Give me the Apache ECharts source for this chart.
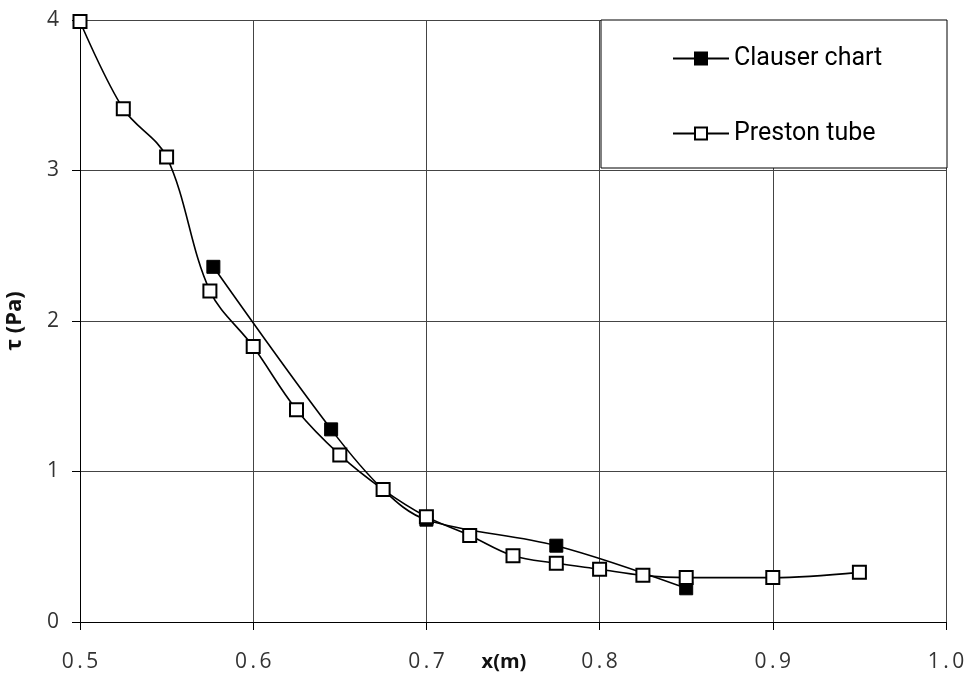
<!DOCTYPE html>
<html>
<head>
<meta charset="utf-8">
<title>Wall shear stress</title>
<script src="https://cdn.jsdelivr.net/npm/echarts@6.0.0/dist/echarts.min.js"></script>
<style>
  html, body { margin: 0; padding: 0; background: #fff; overflow: hidden; }
  #chart { width: 973px; height: 679px; }
</style>
</head>
<body>
<div id="chart"></div>
<script>
// Wall shear stress along the plate, two measurement methods
var prestonX = [0.5, 0.525, 0.55, 0.575, 0.6, 0.625, 0.65, 0.675, 0.7, 0.725, 0.75, 0.775, 0.8, 0.825, 0.85, 0.9, 0.95];
var prestonTau = [3.99, 3.41, 3.09, 2.20, 1.83, 1.41, 1.11, 0.88, 0.70, 0.575, 0.44, 0.39, 0.35, 0.31, 0.295, 0.295, 0.33];

var clauserX = [0.577, 0.645, 0.675, 0.70, 0.775, 0.85];
var clauserTau = [2.36, 1.28, 0.88, 0.68, 0.507, 0.224];

var seriesNames = ['Clauser chart', 'Preston tube'];

function pairs(xs, ys) {
  return xs.map(function (x, i) { return [x, ys[i]]; });
}

// spread tick label characters a little apart
function spaced(s) {
  return s.split('').join('\u2009');
}

var labelFont = '"Open Sans", "Liberation Sans", sans-serif';
var legendFont = 'Roboto, "Liberation Sans", sans-serif';

var chart = echarts.init(document.getElementById('chart'), null, { renderer: 'canvas' });

chart.setOption({
  animation: false,
  backgroundColor: '#ffffff',
  grid: {
    left: 80, right: 27, top: 20, bottom: 57,
    containLabel: false,
    outerBoundsMode: 'none'
  },
  xAxis: {
    type: 'value',
    min: 0.5, max: 1.0, interval: 0.1,
    name: 'x(m)',
    nameLocation: 'middle',
    nameGap: 30,
    nameMoveOverlap: false,
    nameTextStyle: { fontFamily: labelFont, fontWeight: 'bold', fontSize: 20, color: '#111', padding: [0, 18, 0, 0] },
    axisLine: { show: true, onZero: false, lineStyle: { color: '#000', width: 1 } },
    axisTick: { show: true, inside: false, length: 8, lineStyle: { color: '#000' } },
    axisLabel: {
      margin: 30, fontFamily: labelFont, fontSize: 21, color: '#333',
      formatter: function (v) { return spaced(v.toFixed(1)); }
    },
    splitLine: { show: true, lineStyle: { color: '#444', width: 1 } }
  },
  yAxis: {
    type: 'value',
    min: 0, max: 4, interval: 1,
    name: 'τ (Pa)',
    nameLocation: 'middle',
    nameGap: 54,
    nameMoveOverlap: false,
    nameTextStyle: { fontFamily: labelFont, fontWeight: 'bold', fontSize: 22, color: '#111' },
    axisLine: { show: true, lineStyle: { color: '#000', width: 1 } },
    axisTick: { show: true, inside: false, length: 8, lineStyle: { color: '#000' } },
    axisLabel: { margin: 21, fontFamily: labelFont, fontSize: 21, color: '#333' },
    splitLine: { show: true, lineStyle: { color: '#444', width: 1 } }
  },
  graphic: [{
    type: 'rect',
    z: 3,
    shape: { x: 601, y: 20, width: 346, height: 148 },
    style: { fill: '#ffffff', stroke: '#000', lineWidth: 1 }
  }],
  legend: {
    orient: 'vertical',
    left: 672,
    top: 46,
    padding: 0,
    itemWidth: 56,
    itemHeight: 15,
    itemGap: 50,
    z: 5,
    textStyle: { fontFamily: legendFont, fontSize: 25, color: '#000' },
    data: seriesNames
  },
  series: [
    {
      name: seriesNames[0],
      type: 'line',
      smooth: 0.35,
      data: pairs(clauserX, clauserTau),
      symbol: 'rect',
      symbolSize: 13,
      z: 2,
      lineStyle: { color: '#000', width: 1.6 },
      itemStyle: { color: '#000', borderColor: '#000', borderWidth: 1 }
    },
    {
      name: seriesNames[1],
      type: 'line',
      smooth: 0.35,
      data: pairs(prestonX, prestonTau),
      symbol: 'rect',
      symbolSize: 13,
      z: 3,
      lineStyle: { color: '#000', width: 1.6 },
      itemStyle: { color: '#fff', borderColor: '#000', borderWidth: 2 }
    }
  ]
});
</script>
</body>
</html>
